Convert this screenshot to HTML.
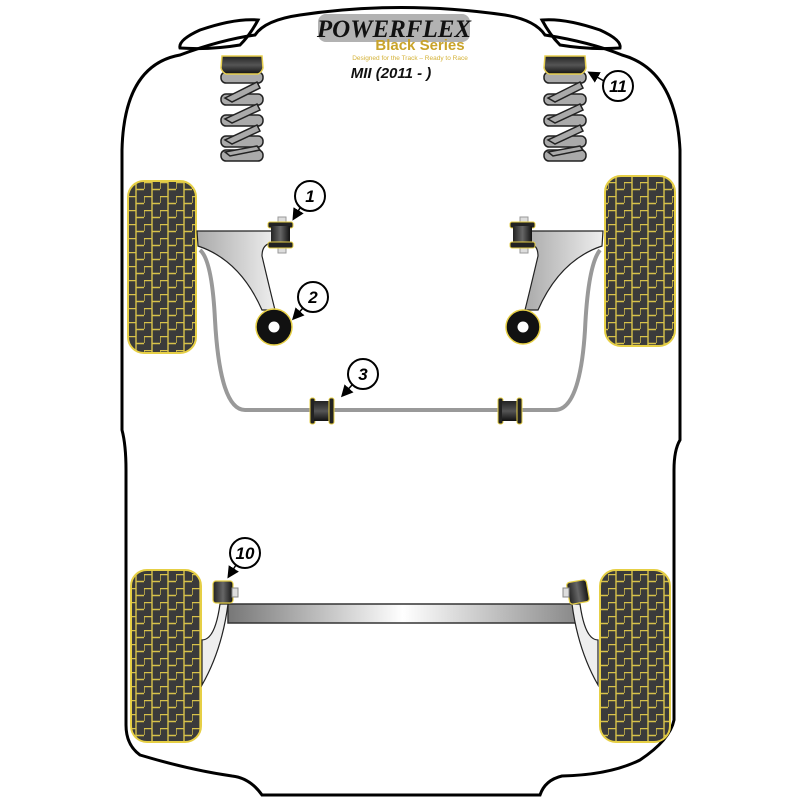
<!DOCTYPE html>
<html><head><meta charset="utf-8"><style>
html,body{margin:0;padding:0;background:#fff;width:800px;height:800px;overflow:hidden}
</style></head><body>
<svg width="800" height="800" viewBox="0 0 800 800" xmlns="http://www.w3.org/2000/svg" font-family="Liberation Sans, sans-serif">
<defs>
<pattern id="tread" width="16" height="14" patternUnits="userSpaceOnUse">
<rect width="16" height="14" fill="#3b3b3b"/>
<path d="M0 0.5H8V7.5H16M8 7.5V14M0 0.5V7" stroke="#d8c24a" stroke-width="1.4" fill="none"/>
</pattern>
<linearGradient id="arm" x1="0" x2="1"><stop offset="0" stop-color="#aaa"/><stop offset="1" stop-color="#eee"/></linearGradient>
<linearGradient id="beam" x1="0" x2="1"><stop offset="0" stop-color="#777"/><stop offset="0.5" stop-color="#fff"/><stop offset="1" stop-color="#888"/></linearGradient>
<linearGradient id="bush" x1="0" x2="0" y1="0" y2="1"><stop offset="0" stop-color="#222"/><stop offset="0.5" stop-color="#555"/><stop offset="1" stop-color="#111"/></linearGradient>
<linearGradient id="bushh" x1="0" x2="1"><stop offset="0" stop-color="#222"/><stop offset="0.5" stop-color="#666"/><stop offset="1" stop-color="#111"/></linearGradient>
<marker id="ah" markerWidth="8" markerHeight="8" refX="6" refY="4" orient="auto"><path d="M0 0L8 4L0 8z" fill="#000"/></marker>
</defs>
<!-- body -->
<path d="M180 55 Q220 40 255 35 Q265 20 300 15 Q400 0 505 15 Q535 20 545 35 Q590 42 622 55 Q676 70 680 150 L680 440 Q674 450 674 470 L674 720 Q670 740 640 760 Q610 775 562 776 Q545 780 540 795 L262 795 Q250 778 232 776 Q190 770 140 755 Q126 745 126 725 L126 470 Q126 445 122 430 L122 150 Q124 65 180 55 Z" fill="none" stroke="#000" stroke-width="3"/>
<path d="M180 48 Q178 40 200 30 Q235 18 258 20 Q250 35 240 45 Q210 50 180 48Z" fill="none" stroke="#000" stroke-width="3"/>
<path d="M620 48 Q622 40 600 30 Q565 18 542 20 Q550 35 560 45 Q590 50 620 48Z" fill="none" stroke="#000" stroke-width="3"/>
<!-- logo -->
<rect x="318" y="14" width="152" height="28" rx="8" fill="#666" opacity="0.5"/>
<text x="394" y="37" text-anchor="middle" font-size="25" font-weight="bold" font-style="italic" fill="#111" font-family="Liberation Serif, serif">POWERFLEX</text>
<text x="420" y="50" text-anchor="middle" font-size="15" fill="#c9a32a" font-weight="bold">Black Series</text>
<text x="410" y="60" text-anchor="middle" font-size="6.5" fill="#d4b238">Designed for the Track – Ready to Race</text>
<text x="391" y="78" text-anchor="middle" font-size="15" font-weight="bold" font-style="italic" fill="#111">MII (2011 - )</text>
<!-- springs -->
<g id="spr">
<g fill="#aaa" stroke="#222" stroke-width="1.5">
<rect x="221" y="72" width="42" height="11" rx="5"/>
<rect x="221" y="94" width="42" height="11" rx="5"/>
<rect x="221" y="115" width="42" height="11" rx="5"/>
<rect x="221" y="136" width="42" height="11" rx="5"/>
<rect x="221" y="150" width="42" height="11" rx="5"/>
<path d="M257 82 L225 98 L232 102 L260 88Z M257 104 L225 119 L232 123 L260 110Z M257 125 L225 140 L232 144 L260 131Z M257 146 L225 152 L230 156 L260 150Z"/>
</g>
<path d="M222 56 H262 L263 68 Q262 72 258 74 H226 Q222 72 221 68Z" fill="url(#bush)" stroke="#e8d050" stroke-width="1.5"/>
</g>
<use href="#spr" transform="translate(323,0)"/>
<!-- tires -->
<g stroke="#e6cf45" stroke-width="2" fill="url(#tread)">
<rect x="128" y="181" width="68" height="172" rx="16"/>
<rect x="605" y="176" width="70" height="170" rx="16"/>
<rect x="131" y="570" width="70" height="172" rx="16"/>
<rect x="600" y="570" width="70" height="172" rx="16"/>
</g>
<!-- anti-roll bar -->
<path d="M200 250 Q212 260 215 320 Q220 410 245 410 L555 410 Q580 410 585 330 Q588 265 600 250" fill="none" stroke="#999" stroke-width="4"/>
<!-- front arms -->
<path d="M197 231 H272 V243 Q262 244 262 256 Q270 290 275 310 L262 310 Q240 260 198 246Z" fill="url(#arm)" stroke="#222" stroke-width="1.2"/>
<path d="M603 231 H528 V243 Q538 244 538 256 Q530 290 525 310 L538 310 Q560 260 602 246Z" fill="url(#arm)" stroke="#222" stroke-width="1.2"/>
<!-- bushing 1 -->
<g id="b1">
<rect x="278" y="217" width="8" height="36" fill="#ddd" stroke="#999"/>
<rect x="268" y="222" width="25" height="6" rx="2" fill="#222" stroke="#e6cf45"/>
<rect x="271" y="226" width="19" height="17" fill="url(#bushh)"/>
<rect x="268" y="242" width="25" height="6" rx="2" fill="#222" stroke="#e6cf45"/>
</g>
<use href="#b1" transform="translate(242,0)"/>
<!-- bushing 2 -->
<circle cx="274" cy="327" r="18" fill="#111" stroke="#e6cf45" stroke-width="1.5"/>
<circle cx="274" cy="327" r="5.5" fill="#fff"/>
<circle cx="523" cy="327" r="17" fill="#111" stroke="#e6cf45" stroke-width="1.5"/>
<circle cx="523" cy="327" r="5.5" fill="#fff"/>
<!-- bushing 3 -->
<g id="b3">
<rect x="310" y="398" width="5" height="26" rx="2" fill="#222" stroke="#e6cf45"/>
<rect x="314" y="401" width="15" height="20" fill="url(#bush)"/>
<rect x="329" y="398" width="5" height="26" rx="2" fill="#222" stroke="#e6cf45"/>
</g>
<use href="#b3" transform="translate(188,0)"/>
<!-- rear beam -->
<rect x="228" y="604" width="350" height="19" fill="url(#beam)" stroke="#333" stroke-width="1.5"/>
<path d="M220 604 Q215 640 202 640 V685 Q222 650 228 604Z" fill="#eee" stroke="#222" stroke-width="1.2"/>
<path d="M580 604 Q585 640 598 640 V685 Q578 650 572 604Z" fill="#eee" stroke="#222" stroke-width="1.2"/>
<rect x="213" y="581" width="20" height="22" rx="3" fill="url(#bushh)" stroke="#e6cf45" stroke-width="1.2"/>
<rect x="232" y="588" width="6" height="9" fill="#ddd" stroke="#888"/>
<rect x="568" y="581" width="20" height="22" rx="3" fill="url(#bushh)" stroke="#e6cf45" stroke-width="1.2" transform="rotate(-10 578 592)"/>
<rect x="563" y="588" width="6" height="9" fill="#ddd" stroke="#888"/>
<!-- callouts -->
<g fill="#fff" stroke="#000" stroke-width="2">
<circle cx="310" cy="196" r="15"/><circle cx="313" cy="297" r="15"/><circle cx="363" cy="374" r="15"/><circle cx="245" cy="553" r="15"/><circle cx="618" cy="86" r="15"/>
</g>
<g stroke="#000" stroke-width="1.5" marker-end="url(#ah)">
<line x1="300" y1="208" x2="294" y2="218"/>
<line x1="303" y1="308" x2="294" y2="318"/>
<line x1="352" y1="385" x2="343" y2="395"/>
<line x1="236" y1="565" x2="229" y2="576"/>
<line x1="604" y1="81" x2="590" y2="73"/>
</g>
<g font-weight="bold" font-style="italic" font-size="17" text-anchor="middle" fill="#000">
<text x="310" y="202">1</text><text x="313" y="303">2</text><text x="363" y="380">3</text><text x="245" y="559">10</text><text x="618" y="92">11</text>
</g>
</svg>
</body></html>
